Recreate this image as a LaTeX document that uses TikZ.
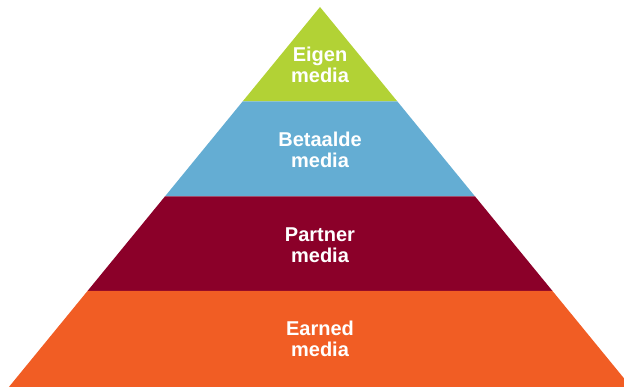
\documentclass[tikz,border=0pt]{standalone}
\usepackage{fontspec}
\setmainfont{Liberation Sans}
\usepackage{xcolor}
\usepackage{tikz}

\definecolor{owngreen}{HTML}{B2D235}
\definecolor{paidblue}{HTML}{64ADD3}
\definecolor{partnerred}{HTML}{8B0029}
\definecolor{earnedorange}{HTML}{F15D24}

\begin{document}
\begin{tikzpicture}[
    x=1pt, y=1pt,
    layer/.style={draw=none},
    lbl/.style={text=white, font=\fontsize{20}{20.5}\selectfont\bfseries,
                align=center, inner sep=0pt}
  ]
    \useasboundingbox (0,0) rectangle (624,387);

    % corners of the bands, apex on top
    \coordinate (top) at (320,380);
    \coordinate (l1) at (242.6,285.5); \coordinate (r1) at (397.4,285.5);
    \coordinate (l2) at (164.9,190.5); \coordinate (r2) at (475.1,190.5);
    \coordinate (l3) at (87.5,96);     \coordinate (r3) at (552.5,96);
    \coordinate (l4) at (8.9,0);       \coordinate (r4) at (631.1,0);

    \fill[layer, owngreen]     (top) -- (r1) -- (l1) -- cycle;
    \fill[layer, paidblue]     (l1) -- (r1) -- (r2) -- (l2) -- cycle;
    \fill[layer, partnerred]   (l2) -- (r2) -- (r3) -- (l3) -- cycle;
    \fill[layer, earnedorange] (l3) -- (r3) -- (r4) -- (l4) -- cycle;

    \node[lbl] (eigen)   at (320,322) {Eigen\\media};
    \node[lbl] (betaald) at (320,237) {Betaalde\\media};
    \node[lbl] (partner) at (320,142) {Partner\\media};
    \node[lbl] (earned)  at (320,48)  {Earned\\media};
\end{tikzpicture}
\end{document}
